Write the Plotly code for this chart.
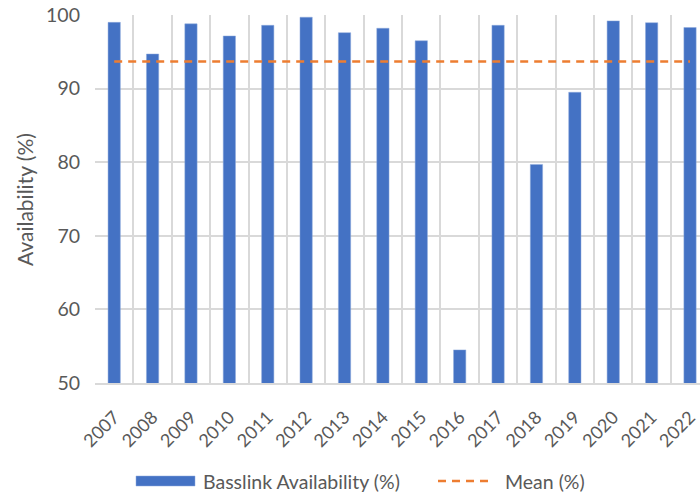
import numpy as np
import plotly.graph_objects as go

# Annual Basslink availability (%)
years = ["2007", "2008", "2009", "2010", "2011", "2012", "2013", "2014",
         "2015", "2016", "2017", "2018", "2019", "2020", "2021", "2022"]
availability = [99.0, 94.7, 98.8, 97.15, 98.6, 99.7, 97.6, 98.2,
                96.5, 54.5, 98.6, 79.7, 89.5, 99.2, 98.95, 98.3]
mean_value = float(np.mean(availability))
mean_line = [mean_value] * len(years)

series_names = ["Basslink Availability (%)", "Mean (%)"]

BLUE = "#4472C4"
ORANGE = "#ED7D31"
GRID = "#D9D9D9"
TEXT = "#595959"
FONT = "Lato, 'Open Sans', sans-serif"

W, H = 700, 495
L, R, T, B = 95, 0, 15, 112
plot_w = W - L - R
plot_h = H - T - B


def px_x(px):
    return (px - L) / plot_w


def px_y(py):
    return (H - B - py) / plot_h


fig = go.Figure()
fig.add_trace(go.Bar(
    x=years, y=availability, name=series_names[0],
    marker=dict(color=BLUE, line=dict(color="#8FAADC", width=0.5)),
    width=0.32, showlegend=False,
))
fig.add_trace(go.Scatter(
    x=years, y=mean_line, name=series_names[1], mode="lines",
    line=dict(color=ORANGE, width=2.5, dash="8px,6px"),
    showlegend=False,
))

# Legend drawn beneath the axis
leg_y = 481
shapes = [
    dict(type="rect", xref="paper", yref="paper",
         x0=px_x(136), x1=px_x(195), y0=px_y(486), y1=px_y(476),
         fillcolor=BLUE, line=dict(color="#8FAADC", width=0.5)),
    dict(type="line", xref="paper", yref="paper",
         x0=px_x(438), x1=px_x(494), y0=px_y(leg_y), y1=px_y(leg_y),
         line=dict(color=ORANGE, width=2.5, dash="8px,6px")),
]
annotations = [
    dict(xref="paper", yref="paper", x=px_x(201), y=px_y(leg_y),
         text=series_names[0], showarrow=False, xanchor="left",
         yanchor="middle", font=dict(family=FONT, size=19.5, color=TEXT)),
    dict(xref="paper", yref="paper", x=px_x(503), y=px_y(leg_y),
         text=series_names[1], showarrow=False, xanchor="left",
         yanchor="middle", font=dict(family=FONT, size=19.5, color=TEXT)),
    dict(xref="paper", yref="paper", x=px_x(24), y=px_y(200),
         text="Availability (%)", showarrow=False, textangle=-90,
         xanchor="center", yanchor="middle",
         font=dict(family=FONT, size=21, color=TEXT)),
]

fig.update_layout(
    width=W, height=H,
    margin=dict(l=L, r=R, t=T, b=B),
    paper_bgcolor="white", plot_bgcolor="white",
    font=dict(family=FONT, color=TEXT),
    showlegend=False,
    shapes=shapes,
    annotations=annotations,
)
fig.update_xaxes(
    type="category",
    range=[-0.5, 15.26],
    tickson="boundaries",
    ticks="",
    showgrid=True, gridcolor=GRID, gridwidth=1.5,
    showline=True, linecolor=GRID, linewidth=1.5,
    tickangle=-45,
    ticklabelstandoff=15,
    tickfont=dict(family=FONT, size=18, color=TEXT),
)
fig.update_yaxes(
    range=[50, 100], dtick=10, tick0=50,
    showgrid=True, gridcolor=GRID, gridwidth=1.5,
    zeroline=False, ticks="",
    ticklabelstandoff=14,
    tickfont=dict(family=FONT, size=19.5, color=TEXT),
)

fig.write_html("out.html")
